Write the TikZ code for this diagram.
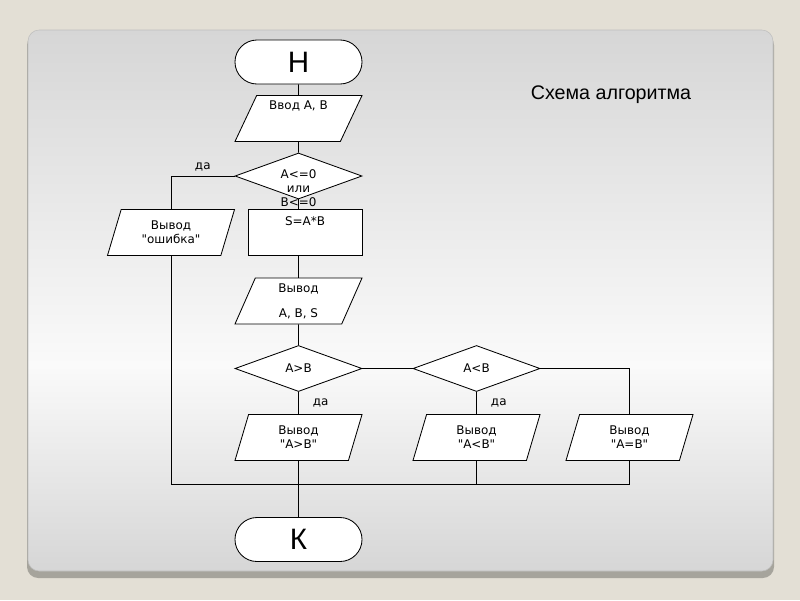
\documentclass[tikz,border=0pt]{standalone}
\usepackage{fontspec}
\setmainfont{DejaVu Sans}[Ligatures=TeXOff]
\newfontfamily\headfont{Liberation Sans}
\usetikzlibrary{shapes.geometric, positioning}
\definecolor{pagebg}{RGB}{227,223,213}
\definecolor{panelgray}{RGB}{214,214,214}
\definecolor{panellight}{RGB}{250,250,250}
\definecolor{panelshadow}{RGB}{166,164,156}
% the picture's y axis runs downwards, so this shading is read top to bottom
\pgfdeclareverticalshading{panelshade}{100bp}{color(0bp)=(panelgray); color(25bp)=(panelgray);
  color(44bp)=(panellight); color(75bp)=(panelgray); color(100bp)=(panelgray)}

\begin{document}
\begin{tikzpicture}[
  x=0.025cm, y=-0.025cm,
  term/.style={rectangle, rounded corners=0.55cm, draw, line width=0.6pt, fill=white,
               minimum width=3.175cm, minimum height=1.1cm,
               font=\headfont\fontsize{21}{23}\selectfont},
  io/.style={trapezium, trapezium left angle=62, trapezium right angle=118,
             trapezium stretches body, draw, line width=0.6pt, fill=white,
             minimum width=3.175cm, minimum height=1.15cm, inner sep=1pt,
             align=center, font=\fontsize{8.5}{10}\selectfont},
  proc/.style={rectangle, draw, line width=0.6pt, fill=white,
               minimum width=2.85cm, minimum height=1.15cm, inner sep=1pt,
               font=\fontsize{8.5}{10}\selectfont},
  cond/.style={diamond, aspect=2.7, draw, line width=0.6pt, fill=white,
               minimum width=3.175cm, minimum height=1.15cm, inner sep=1pt,
               font=\fontsize{8.5}{10}\selectfont},
  toptext/.style={text height=7pt, text depth=#1},
  wire/.style={line width=0.6pt},
  tag/.style={font=\fontsize{8.5}{10}\selectfont, inner sep=1pt}
]
  % Page and panel
  \fill[pagebg] (0,0) rectangle (800,600);
  \fill[panelshadow, rounded corners=8pt] (27,34) rectangle (774,578);
  \shade[shading=panelshade, rounded corners=8pt, draw=black!25] (28,30) rectangle (773,571);
  \useasboundingbox (0,0) rectangle (800,600);

  % Title
  \node[font=\headfont\fontsize{14}{16}\selectfont] (title) at (611,95) {Схема алгоритма};

  % Main column
  \node[term]                   (start) at (298.5,62)    {Н};
  \node[io, toptext=20pt]       (input) at (298.5,118.5) {Ввод A, B};
  \node[cond]                   (test)  at (298.5,176)   {};
  \node[tag, align=center]      (testtext) at ([yshift=-0.3cm]test.center)
                                                         {A<=0\\или\\B<=0};
  \node[io]                     (err)   at (171,232.5)   {Вывод\\"ошибка"};
  \node[proc, toptext=17pt]     (calc)  at (305,232.5)   {S=A*B};
  \node[io]                     (out)   at (298.5,301)   {Вывод\\[8pt]A, B, S};

  % Comparisons
  \node[cond] (gt)    at (298.5,368.5) {A>B};
  \node[cond] (lt)    at (476.5,368.5) {A<B};
  \node[io]   (gtout) at (298.5,437.5) {Вывод\\"A>B"};
  \node[io]   (ltout) at (476.5,437.5) {Вывод\\"A<B"};
  \node[io]   (eqout) at (629.5,437.5) {Вывод\\"A=B"};
  \node[term] (stop)  at (298.5,539.5) {К};
  \coordinate (merge) at (298.5,484);

  % Flow lines
  \draw[wire] (start.south) -- (input.north);
  \draw[wire] (input.south) -- (test.north);
  \draw[wire] (test.west) -| (err.north) node[tag, pos=0.25, above=2pt] {да};
  \draw[wire] (test.south) -- (test.south |- calc.north);
  \draw[wire] (out.north |- calc.south) -- (out.north);
  \draw[wire] (out.south) -- (gt.north);
  \draw[wire] (gt.east) -- (lt.west);
  \draw[wire] (lt.east) -| (eqout.north);
  \draw[wire] (gt.south) -- (gtout.north) node[tag, midway, right=9pt] {да};
  \draw[wire] (lt.south) -- (ltout.north) node[tag, midway, right=9pt] {да};

  % Joining to the end
  \draw[wire] (err.south) |- (merge);
  \draw[wire] (ltout.south) |- (merge);
  \draw[wire] (eqout.south) |- (merge);
  \draw[wire] (gtout.south) -- (stop.north);
\end{tikzpicture}
\end{document}
